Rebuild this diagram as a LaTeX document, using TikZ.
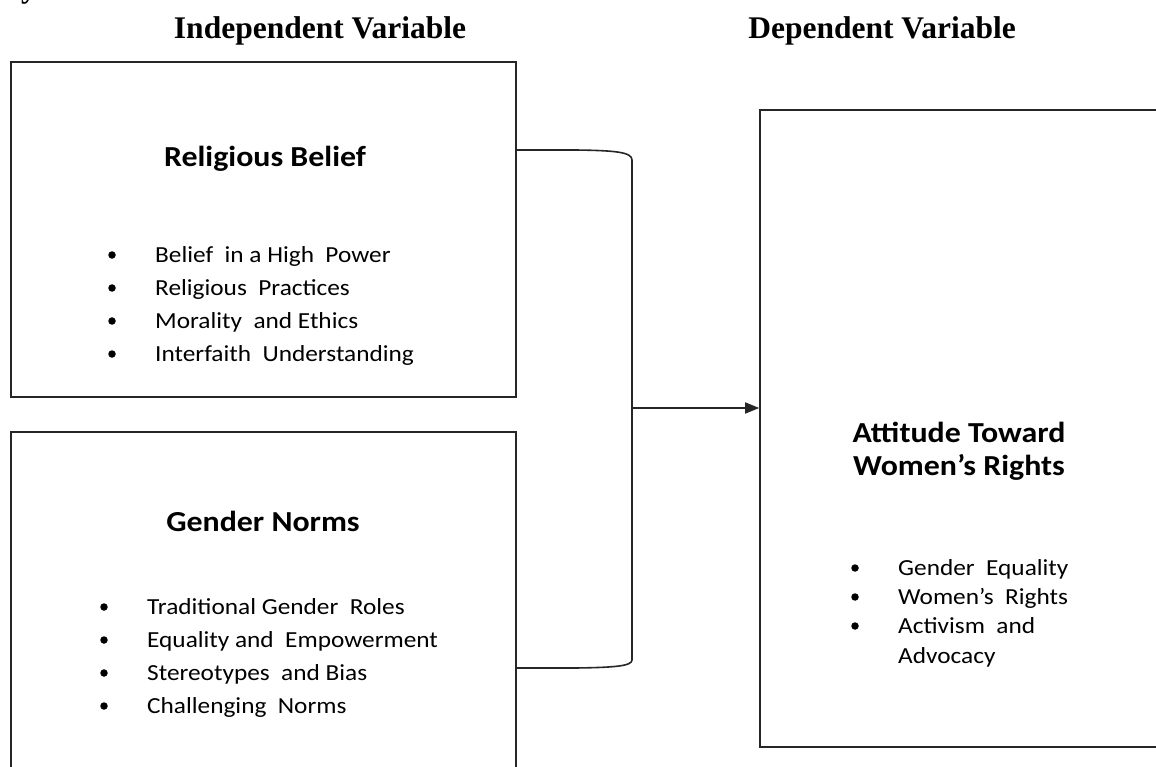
\documentclass[tikz,border=0pt]{standalone}
\usepackage{fontspec}
\setmainfont{Liberation Serif}
\newfontfamily\calfont[FakeStretch=1.1]{Carlito}
\usetikzlibrary{arrows.meta}
\begin{document}
\begin{tikzpicture}[x=1pt,y=-1pt,
  frame/.style={draw=black!85,line width=1.6pt,rectangle,inner sep=0pt},
  conn/.style={draw=black!85,line width=1.6pt},
  head/.style={font=\fontsize{31.5}{36}\selectfont\bfseries,anchor=base,inner sep=0pt},
  title/.style={font=\calfont\fontsize{29}{34}\selectfont\bfseries,anchor=base,inner sep=0pt},
  item/.style={font=\calfont\fontsize{23}{28}\selectfont,anchor=base west,inner sep=0pt},
  bul/.style={circle,fill=black,inner sep=0pt,minimum size=7.5pt}
]
\useasboundingbox (0,0) rectangle (1156,767);
\fill[white] (0,0) rectangle (1156,767);

% headings
\node[head,anchor=base west] (frag) at (21,-2) {y};
\node[head] (indep) at (320,39) {Independent Variable};
\node[head] (dep) at (882,39) {Dependent Variable};

% boxes
\node[frame,minimum width=505pt,minimum height=335pt] (box1) at (263.5,229.5) {};
\node[frame,minimum width=505pt,minimum height=360pt] (box2) at (263.5,612) {};
\node[frame,minimum width=398pt,minimum height=637pt] (box3) at (959,428.5) {};

% box 1 content
\node[title] (t1) at (265,167) {Religious Belief};
\node[bul] (b11) at (112,255) {};
\node[item] (i11) at (155,262) {Belief \ in a High \ Power};
\node[bul] (b12) at (112,288) {};
\node[item] (i12) at (155,295) {Religious \ Practices};
\node[bul] (b13) at (112,321) {};
\node[item] (i13) at (155,328) {Morality \ and Ethics};
\node[bul] (b14) at (112,354) {};
\node[item] (i14) at (155,361) {Interfaith \ Understanding};

% box 2 content
\node[title] (t2) at (263,531) {Gender Norms};
\node[bul] (b21) at (104,607) {};
\node[item] (i21) at (147,614) {Traditional Gender \ Roles};
\node[bul] (b22) at (104,640) {};
\node[item] (i22) at (147,647) {Equality and \ Empowerment};
\node[bul] (b23) at (104,673) {};
\node[item] (i23) at (147,680) {Stereotypes \ and Bias};
\node[bul] (b24) at (104,706) {};
\node[item] (i24) at (147,713) {Challenging \ Norms};

% box 3 content
\node[title] (t3a) at (959,442) {Attitude Toward};
\node[title] (t3b) at (959,475) {Women’s Rights};
\node[bul] (b31) at (855,568) {};
\node[item] (i31) at (898,575) {Gender \ Equality};
\node[bul] (b32) at (855,597) {};
\node[item] (i32) at (898,604) {Women’s \ Rights};
\node[bul] (b33) at (855,626) {};
\node[item] (i33) at (898,633) {Activism \ and};
\node[item] (i34) at (898,663) {Advocacy};

% connector
\coordinate (top) at (box1.east |- 0,150);
\coordinate (bot) at (box2.east |- 0,668);
\coordinate (jn) at (632,408);
\draw[conn] (top) -- (575,150) .. controls (615,150.5) and (632,152) .. (632,160)
  -- (632,660) .. controls (632,666) and (615,667.5) .. (575,668) -- (bot);
\draw[conn,-{Triangle[length=14pt,width=11pt]}] (jn) -- (jn -| box3.west);
\end{tikzpicture}
\end{document}
